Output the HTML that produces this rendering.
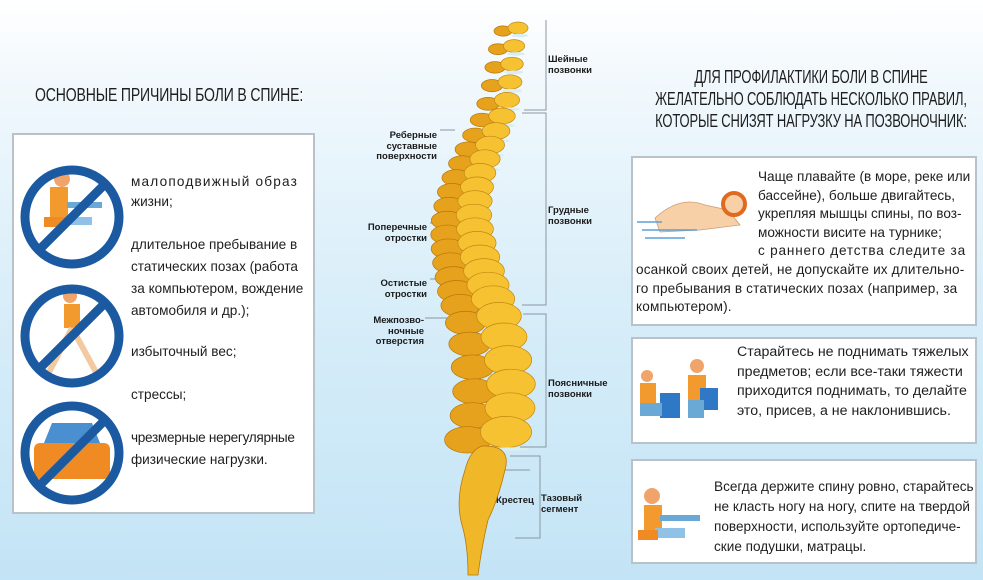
<!DOCTYPE html>
<html><head><meta charset="utf-8">
<style>
*{margin:0;padding:0;box-sizing:border-box}
body{width:983px;height:580px;overflow:hidden;position:relative;font-family:"Liberation Sans",sans-serif;color:#1e1e1e;
background:linear-gradient(180deg,#ffffff 0%,#f3f9fd 12%,#d9eef9 50%,#c3e4f6 100%);}
.box{position:absolute;background:#fff;border:2px solid #b9c2c8;}
.h{position:absolute;font-size:18px;white-space:nowrap;transform-origin:0 0;letter-spacing:-0.2px;}
.t{position:absolute;font-size:13.6px;line-height:18.6px;white-space:nowrap}
.lt{position:absolute;font-size:13.6px;white-space:nowrap}
.sl{position:absolute;font-size:9.5px;line-height:10.5px;font-weight:bold;color:#1a1a1a;white-space:nowrap}
.r{text-align:right}
svg{position:absolute;left:0;top:0}
</style></head><body>
<div class="h" style="left:35px;top:85px;transform:scaleX(0.78)">ОСНОВНЫЕ ПРИЧИНЫ БОЛИ В СПИНЕ:</div>
<div class="h" style="left:591px;top:66px;width:440px;transform:scaleX(0.72);transform-origin:50% 0;text-align:center;line-height:22px">ДЛЯ ПРОФИЛАКТИКИ БОЛИ В СПИНЕ<br>ЖЕЛАТЕЛЬНО СОБЛЮДАТЬ НЕСКОЛЬКО ПРАВИЛ,<br>КОТОРЫЕ СНИЗЯТ НАГРУЗКУ НА ПОЗВОНОЧНИК:</div>

<div class="box" style="left:12px;top:133px;width:303px;height:381px"></div>
<div class="box" style="left:631px;top:156px;width:346px;height:170px"></div>
<div class="box" style="left:631px;top:337px;width:346px;height:107px"></div>
<div class="box" style="left:631px;top:459px;width:346px;height:105px"></div>

<div class="lt" style="left:131px;top:174px;letter-spacing:1.2px">малоподвижный образ</div>
<div class="lt" style="left:131px;top:194px">жизни;</div>
<div class="lt" style="left:131px;top:237px">длительное пребывание в</div>
<div class="lt" style="left:131px;top:259px">статических позах (работа</div>
<div class="lt" style="left:131px;top:281px">за компьютером, вождение</div>
<div class="lt" style="left:131px;top:303px">автомобиля и др.);</div>
<div class="lt" style="left:131px;top:344px">избыточный вес;</div>
<div class="lt" style="left:131px;top:387px">стрессы;</div>
<div class="lt" style="left:131px;top:430px;letter-spacing:-0.3px">чрезмерные нерегулярные</div>
<div class="lt" style="left:131px;top:452px">физические нагрузки.</div>

<div class="t" style="left:758px;top:168px">Чаще плавайте (в море, реке или<br>бассейне), больше двигайтесь,<br>укрепляя мышцы спины, по воз-<br>можности висите на турнике;<br><span style="letter-spacing:0.8px">с раннего детства следите за</span></div>
<div class="t" style="left:636px;top:261px;letter-spacing:0.15px">осанкой своих детей, не допускайте их длительно-<br>го пребывания в статических позах (например, за<br>компьютером).</div>
<div class="t" style="left:737px;top:343px;line-height:19.7px;font-size:14.2px">Старайтесь не поднимать тяжелых<br>предметов; если все-таки тяжести<br>приходится поднимать, то делайте<br>это, присев, а не наклонившись.</div>
<div class="t" style="left:714px;top:477px;line-height:20px">Всегда держите спину ровно, старайтесь<br>не класть ногу на ногу, спите на твердой<br>поверхности, используйте ортопедиче-<br>ские подушки, матрацы.</div>

<div class="sl" style="left:548px;top:55px">Шейные<br>позвонки</div>
<div class="sl" style="left:548px;top:206px">Грудные<br>позвонки</div>
<div class="sl" style="left:548px;top:379px">Поясничные<br>позвонки</div>
<div class="sl" style="left:496px;top:496px">Крестец</div>
<div class="sl" style="left:541px;top:494px">Тазовый<br>сегмент</div>
<div class="sl r" style="left:337px;top:131px;width:100px">Реберные<br>суставные<br>поверхности</div>
<div class="sl r" style="left:337px;top:223px;width:90px">Поперечные<br>отростки</div>
<div class="sl r" style="left:337px;top:279px;width:90px">Остистые<br>отростки</div>
<div class="sl r" style="left:337px;top:316px;width:87px">Межпозво-<br>ночные<br>отверстия</div>

<svg width="983" height="580" viewBox="0 0 983 580">
<g stroke="#8a97a0" stroke-width="1" fill="none">
<polyline points="524,110 546,110 546,20"/>
<polyline points="522,113 546,113 546,305 522,305"/>
<polyline points="523,314 546,314 546,447 520,447"/>
<polyline points="510,456 540,456 540,538 515,538"/>
<line x1="440" y1="130" x2="455" y2="130"/>
<line x1="430" y1="223" x2="450" y2="223"/>
<line x1="430" y1="279" x2="452" y2="279"/>
<line x1="425" y1="318" x2="450" y2="318"/>
<line x1="505" y1="470" x2="530" y2="470"/>
</g>
<g id="spine"></g>
<g>
<g transform="translate(72,217)">
<rect x="-22" y="-30" width="18" height="30" fill="#f29a2e"/><circle cx="-10" cy="-38" r="8" fill="#f0a46a"/>
<rect x="-5" y="-15" width="35" height="6" fill="#6aa9d6"/><rect x="-10" y="0" width="30" height="8" fill="#8fc2e6"/>
<rect x="-28" y="0" width="22" height="10" fill="#f08a22"/>
<circle r="47" fill="none" stroke="#1b5aa0" stroke-width="9"/><line x1="-33" y1="33" x2="33" y2="-33" stroke="#1b5aa0" stroke-width="9"/></g>
<g transform="translate(72,336)">
<rect x="-8" y="-32" width="16" height="24" fill="#f29a2e"/><circle cx="-2" cy="-40" r="7" fill="#f0a46a"/>
<line x1="0" y1="-8" x2="-25" y2="40" stroke="#f3c9a0" stroke-width="6"/><line x1="0" y1="-8" x2="25" y2="38" stroke="#f3c9a0" stroke-width="6"/>
<circle r="47" fill="none" stroke="#1b5aa0" stroke-width="9"/><line x1="-33" y1="33" x2="33" y2="-33" stroke="#1b5aa0" stroke-width="9"/></g>
<g transform="translate(72,453)">
<rect x="-38" y="-10" width="76" height="36" rx="6" fill="#f08a22"/><path d="M-28,-10 L-20,-30 L20,-30 L28,-10Z" fill="#4a8fd0"/>
<circle r="47" fill="none" stroke="#1b5aa0" stroke-width="9"/><line x1="-33" y1="33" x2="33" y2="-33" stroke="#1b5aa0" stroke-width="9"/></g>
</g>
<g><path d="M655,218 Q680,195 705,205 L728,210 L740,225 L700,230 L660,232Z" fill="#f7d0a8" stroke="#d09a70" stroke-width="0.8"/>
<circle cx="734" cy="204" r="11" fill="#f7d0a8" stroke="#e06a20" stroke-width="4"/>
<path d="M637,222 h25 M642,230 h55 M645,238 h40" stroke="#5aa0d8" stroke-width="1.5"/></g>
<g><rect x="640" y="383" width="16" height="20" fill="#f29a2e"/><circle cx="647" cy="376" r="6" fill="#f0a46a"/>
<rect x="660" y="393" width="20" height="25" fill="#2f78c6"/><rect x="640" y="403" width="22" height="13" fill="#6aa9d6"/>
<rect x="688" y="375" width="18" height="25" fill="#f29a2e"/><circle cx="697" cy="366" r="7" fill="#f0a46a"/>
<rect x="700" y="388" width="18" height="22" fill="#2f78c6"/><rect x="688" y="400" width="16" height="18" fill="#6aa9d6"/></g>
<g><rect x="644" y="505" width="18" height="28" fill="#f29a2e"/><circle cx="652" cy="496" r="8" fill="#f0a46a"/>
<rect x="660" y="515" width="40" height="6" fill="#6aa9d6"/><rect x="655" y="528" width="30" height="10" fill="#8fc2e6"/>
<rect x="638" y="530" width="20" height="10" fill="#f08a22"/></g>
</svg>
<script>
(function(){
var g=document.getElementById('spine');
var pts=[[518,28],[514,46],[512,64],[510,82],[507,100],[502,116],[496,131],[490,145],[485,159],[480,173],[477,187],[475,201],[474,215],[475,229],[477,243],[480,257],[484,271],[488,285],[493,299],[499,316],[504,337],[508,360],[511,384],[510,408],[506,432]];
var s='';
pts.forEach(function(p,i){
 var w=10+i*0.65, h=6+i*0.4;
 s+='<ellipse cx="'+(p[0]-w*1.5)+'" cy="'+(p[1]+h*0.5)+'" rx="'+(w*0.9)+'" ry="'+(h*0.85)+'" fill="#e6a21c" stroke="#b7770a" stroke-width="0.7"/>';
 s+='<ellipse cx="'+p[0]+'" cy="'+p[1]+'" rx="'+w+'" ry="'+h+'" fill="#f6c232" stroke="#c08812" stroke-width="0.7"/>';
 s+='<ellipse cx="'+(p[0]+2)+'" cy="'+(p[1]+h+1.5)+'" rx="'+(w*0.85)+'" ry="1.8" fill="#d8eef0"/>';
});
s+='<path d="M482,446 Q512,445 505,470 Q498,500 488,520 Q482,545 478,575 L468,575 Q468,545 462,525 Q455,500 465,470 Q470,450 482,446Z" fill="#f0b828" stroke="#b7770a" stroke-width="0.8"/>';
g.innerHTML=s;
})();
</script>
</body></html>
